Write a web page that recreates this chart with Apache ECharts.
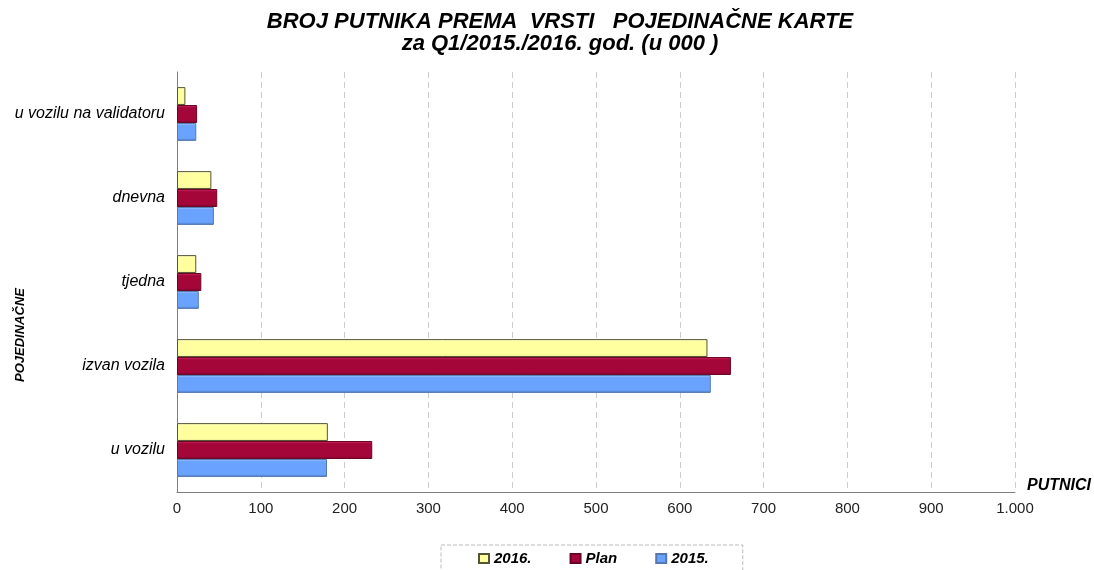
<!DOCTYPE html>
<html>
<head>
<meta charset="utf-8">
<script src="https://cdn.jsdelivr.net/npm/echarts@6/dist/echarts.min.js"></script>
<style>
  html, body { margin: 0; padding: 0; background: #fff; }
  #chart { width: 1094px; height: 570px; }
</style>
</head>
<body>
<div id="chart"></div>
<script>
// categories from bottom to top
const categories = ['u vozilu', 'izvan vozila', 'tjedna', 'dnevna', 'u vozilu na validatoru'];
const values2016 = [180, 633, 23, 41, 10];
const valuesPlan = [233, 661, 29, 48, 24];
const values2015 = [179, 637, 26, 44, 23];

const fmt = v => String(v).replace(/\B(?=(\d{3})+(?!\d))/g, '.');

function grad(top, mid, bottom) {
  return new echarts.graphic.LinearGradient(0, 0, 0, 1, [
    { offset: 0, color: top },
    { offset: 0.15, color: mid },
    { offset: 0.85, color: mid },
    { offset: 1, color: bottom }
  ]);
}

let myChart = echarts.init(document.getElementById('chart'));
let option = {
  animation: false,
  textStyle: { fontFamily: 'Liberation Sans, Arial, sans-serif' },
  title: {
    text: 'BROJ PUTNIKA PREMA  VRSTI   POJEDINAČNE KARTE\nza Q1/2015./2016. god. (u 000 )',
    left: 555,
    textAlign: 'center',
    top: 6,
    textStyle: {
      fontSize: 22,
      fontWeight: 'bold',
      fontStyle: 'italic',
      color: '#000',
      lineHeight: 22
    }
  },
  legend: {
    data: ['2016.', 'Plan', '2015.'],
    left: 441,
    top: 545,
    itemGap: 38,
    itemWidth: 10,
    itemHeight: 9,
    icon: 'rect',
    padding: [6, 34, 10, 37],
    borderColor: '#bbb',
    borderWidth: 1,
    borderType: 'dashed',
    textStyle: { fontSize: 15, fontWeight: 'bold', fontStyle: 'italic', color: '#000' }
  },
  grid: {
    left: 177,
    right: 79,
    top: 72,
    bottom: 78,
    containLabel: false,
    outerBoundsMode: 'none'
  },
  xAxis: {
    type: 'value',
    min: 0,
    max: 1000,
    interval: 100,
    name: 'PUTNICI',
    nameLocation: 'end',
    nameGap: 12,
    nameTextStyle: { fontSize: 16, fontWeight: 'bold', fontStyle: 'italic', color: '#000', verticalAlign: 'bottom', padding: [0, 0, -2, 0] },
    axisLine: { show: true, lineStyle: { color: '#808080' } },
    axisTick: { show: false },
    axisLabel: { fontSize: 15, color: '#222', margin: 9, formatter: fmt },
    splitLine: { show: true, lineStyle: { color: '#ccc', type: [6, 4] } }
  },
  yAxis: {
    type: 'category',
    data: categories,
    name: 'POJEDINAČNE',
    nameLocation: 'middle',
    nameRotate: 90,
    nameGap: 150,
    nameMoveOverlap: false,
    nameTextStyle: { fontSize: 13, fontWeight: 'bold', fontStyle: 'italic', color: '#000', padding: [0, 106, 0, 0] },
    axisLine: { show: true, lineStyle: { color: '#808080' } },
    axisTick: { show: false },
    axisLabel: { fontSize: 16, fontStyle: 'italic', color: '#000', margin: 12 },
    splitLine: { show: false }
  },
  series: [
    {
      name: '2016.',
      type: 'bar',
      data: values2016,
      barCategoryGap: '36%',
      barGap: '0%',
      itemStyle: { color: grad('#ffffd0', '#ffffa0', '#e8e890'), borderColor: '#555533', borderWidth: 1 }
    },
    {
      name: 'Plan',
      type: 'bar',
      data: valuesPlan,
      barCategoryGap: '36%',
      barGap: '0%',
      itemStyle: { color: grad('#d8306a', '#a5063a', '#7a0428'), borderColor: '#6a0323', borderWidth: 1 }
    },
    {
      name: '2015.',
      type: 'bar',
      data: values2015,
      barCategoryGap: '36%',
      barGap: '0%',
      itemStyle: { color: grad('#a9c9ff', '#6aa3ff', '#4b78c0'), borderColor: '#5578b0', borderWidth: 1 }
    }
  ]
};
myChart.setOption(option);
</script>
</body>
</html>
